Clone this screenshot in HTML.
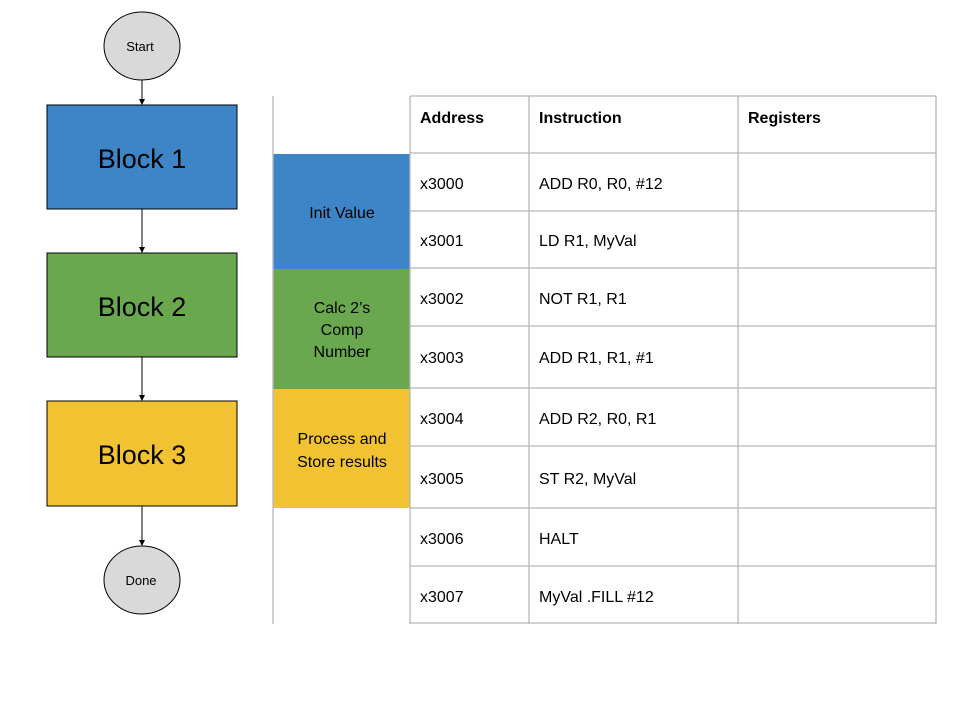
<!DOCTYPE html>
<html><head><style>body{margin:0;background:#fff}svg{display:block}</style></head><body>
<svg width="960" height="720" xmlns="http://www.w3.org/2000/svg" font-family="Liberation Sans, Arial, sans-serif">
<defs><marker id="a" markerWidth="6" markerHeight="6" refX="5" refY="3" orient="auto"><path d="M0,0 L6,3 L0,6z" fill="#000"/></marker></defs>
<ellipse cx="142" cy="46" rx="38" ry="34" fill="#d9d9d9" stroke="#000" stroke-width="1"/>
<text x="140" y="51" font-size="13" text-anchor="middle">Start</text>
<line x1="142" y1="80" x2="142" y2="104" stroke="#000" marker-end="url(#a)"/>
<rect x="47" y="105" width="190" height="104" fill="#3d85c6" stroke="#000"/>
<text x="142" y="168" font-size="27" text-anchor="middle">Block 1</text>
<line x1="142" y1="209" x2="142" y2="252" stroke="#000" marker-end="url(#a)"/>
<rect x="47" y="253" width="190" height="104" fill="#6aa84f" stroke="#000"/>
<text x="142" y="316" font-size="27" text-anchor="middle">Block 2</text>
<line x1="142" y1="357" x2="142" y2="400" stroke="#000" marker-end="url(#a)"/>
<rect x="47" y="401" width="190" height="105" fill="#f1c232" stroke="#000"/>
<text x="142" y="464" font-size="27" text-anchor="middle">Block 3</text>
<line x1="142" y1="506" x2="142" y2="545" stroke="#000" marker-end="url(#a)"/>
<ellipse cx="142" cy="580" rx="38" ry="34" fill="#d9d9d9" stroke="#000"/>
<text x="141" y="585" font-size="13" text-anchor="middle">Done</text>

<rect x="273" y="154" width="137" height="115" fill="#3d85c6"/>
<rect x="273" y="269" width="137" height="120" fill="#6aa84f"/>
<rect x="273" y="389" width="137" height="119" fill="#f1c232"/>
<g font-size="16" text-anchor="middle">
<text x="342" y="218">Init Value</text>
<text x="342" y="313">Calc 2’s</text><text x="342" y="335">Comp</text><text x="342" y="357">Number</text>
<text x="342" y="444">Process and</text><text x="342" y="467">Store results</text>
</g>
<g stroke="#b7b7b7" stroke-width="1.3">
<line x1="273" y1="96" x2="273" y2="624"/>
<line x1="410" y1="96" x2="410" y2="624"/>
<line x1="529" y1="96" x2="529" y2="624"/>
<line x1="738" y1="96" x2="738" y2="624"/>
<line x1="936" y1="96" x2="936" y2="624"/>
<line x1="410" y1="96" x2="936" y2="96"/>
<line x1="410" y1="153" x2="936" y2="153"/>
<line x1="410" y1="211" x2="936" y2="211"/>
<line x1="410" y1="268" x2="936" y2="268"/>
<line x1="410" y1="326" x2="936" y2="326"/>
<line x1="410" y1="388" x2="936" y2="388"/>
<line x1="410" y1="446" x2="936" y2="446"/>
<line x1="410" y1="508" x2="936" y2="508"/>
<line x1="410" y1="566" x2="936" y2="566"/>
<line x1="410" y1="623" x2="936" y2="623"/>
</g>
<g font-size="16" font-weight="bold"><text x="420" y="123">Address</text><text x="539" y="123">Instruction</text><text x="748" y="123">Registers</text></g>
<g font-size="16">
<text x="420" y="189">x3000</text><text x="539" y="189">ADD R0, R0, #12</text>
<text x="420" y="246">x3001</text><text x="539" y="246">LD R1, MyVal</text>
<text x="420" y="304">x3002</text><text x="539" y="304">NOT R1, R1</text>
<text x="420" y="363">x3003</text><text x="539" y="363">ADD R1, R1, #1</text>
<text x="420" y="424">x3004</text><text x="539" y="424">ADD R2, R0, R1</text>
<text x="420" y="484">x3005</text><text x="539" y="484">ST R2, MyVal</text>
<text x="420" y="544">x3006</text><text x="539" y="544">HALT</text>
<text x="420" y="602">x3007</text><text x="539" y="602">MyVal .FILL #12</text>
</g>
</svg>
</body></html>
